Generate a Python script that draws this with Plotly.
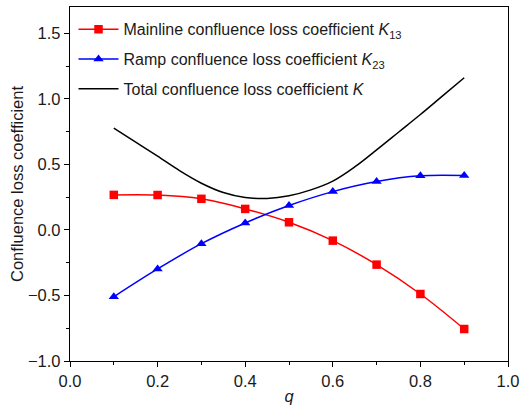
import plotly.graph_objects as go

# Flow ratio q
q = [0.1, 0.2, 0.3, 0.4, 0.5, 0.6, 0.7, 0.8, 0.9]

# Loss coefficients at the sampled flow ratios
k13 = [0.267, 0.266, 0.237, 0.160, 0.058, -0.082, -0.265, -0.489, -0.756]
k23 = [-0.510, -0.298, -0.105, 0.053, 0.186, 0.292, 0.369, 0.412, 0.414]

# Total loss coefficient curve (finer sampling)
q_total = [0.1, 0.15, 0.2, 0.25, 0.3, 0.35, 0.4, 0.45, 0.5, 0.55, 0.6, 0.65, 0.7, 0.75, 0.8, 0.85, 0.9]
k_total = [0.776, 0.669, 0.562, 0.452, 0.356, 0.285, 0.247, 0.240, 0.260, 0.305, 0.372, 0.480, 0.610, 0.745, 0.880, 1.020, 1.160]

FONT = "Liberation Sans, Arial, sans-serif"
TEXT = "#1a1a1a"

fig = go.Figure()

fig.add_trace(go.Scatter(
    x=q, y=k13, mode="lines+markers", line_shape="spline",
    line=dict(color="#ff0000", width=1.5),
    marker=dict(symbol="square", size=8.5, color="#ff0000"),
    name="Mainline confluence loss coefficient <i>K</i><sub>13</sub>",
    legendgroup="a",
))
fig.add_trace(go.Scatter(
    x=q, y=k23, mode="lines+markers", line_shape="spline",
    line=dict(color="#0000ff", width=1.5),
    marker=dict(symbol="triangle-up", size=9, color="#0000ff"),
    name="Ramp confluence loss coefficient <i>K</i><sub>23</sub>",
    legendgroup="b",
))
fig.add_trace(go.Scatter(
    x=q_total, y=k_total, mode="lines", line_shape="spline",
    line=dict(color="#000000", width=1.5, smoothing=1.0),
    name="Total confluence loss coefficient <i>K</i>",
    legendgroup="c",
))

axis_common = dict(
    showline=True, linecolor="black", linewidth=1.3, mirror=True,
    ticks="outside", ticklen=5, tickwidth=1, tickcolor="black",
    showgrid=False, zeroline=False, automargin=False,
    tickfont=dict(family=FONT, size=16.5, color=TEXT),
    minor=dict(ticks="outside", ticklen=3, tickcolor="black", tickwidth=1),
)

fig.update_xaxes(
    range=[0, 1], dtick=0.2, tickformat=".1f",
    minor_dtick=0.1,
    title=dict(text="<i>q</i>", font=dict(family=FONT, size=16.5, color=TEXT), standoff=2),
    **axis_common,
)
fig.update_yaxes(
    range=[-1.0, 1.7], dtick=0.5, tick0=0, tickformat=".1f",
    minor_dtick=0.25,
    title=dict(text="Confluence loss coefficient", font=dict(family=FONT, size=16.5, color=TEXT), standoff=0),
    **axis_common,
)

fig.update_layout(
    width=521, height=405,
    margin=dict(l=70, r=13, t=7, b=44),
    paper_bgcolor="white", plot_bgcolor="white",
    font=dict(family=FONT, color=TEXT),
    legend=dict(
        x=0.008, y=0.985, xanchor="left", yanchor="top",
        bgcolor="rgba(0,0,0,0)", borderwidth=0,
        font=dict(family=FONT, size=16, color=TEXT),
        traceorder="grouped", tracegroupgap=6, itemwidth=40,
    ),
)

fig.write_html("out.html")
